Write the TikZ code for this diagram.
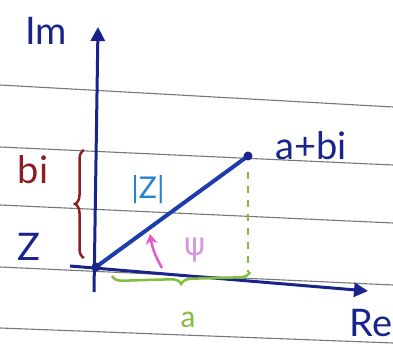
\documentclass[tikz,border=0pt]{standalone}
\usepackage{fontspec}
\setmainfont{Lato}
\newfontfamily\dvfont{DejaVu Sans}
\usetikzlibrary{arrows.meta,decorations.pathreplacing}
\definecolor{axisblue}{RGB}{25,35,140}
\definecolor{lineblue}{RGB}{30,60,170}
\definecolor{zcyan}{RGB}{40,130,210}
\definecolor{darkred}{RGB}{140,30,35}
\definecolor{brgreen}{RGB}{130,190,60}
\definecolor{mag}{RGB}{230,90,200}
\definecolor{lpink}{RGB}{215,150,225}
\definecolor{paper}{RGB}{120,120,120}
\tikzset{
  ruled/.style={paper,line width=1.1pt},
  axis/.style={axisblue,line width=3pt,-{Triangle[length=14pt,width=14pt]}},
  lbl/.style={inner sep=0pt,anchor=center},
  big/.style={font=\fontsize{38}{38}\selectfont},
  mid/.style={font=\fontsize{30}{30}\selectfont},
}
\begin{document}
\begin{tikzpicture}[x=1pt,y=-1pt]
\useasboundingbox (0,0) rectangle (393,344);
% ruled paper
\draw[ruled] (0,85) -- (393,107);
\draw[ruled] (0,147) -- (393,165);
\draw[ruled] (0,205) -- (393,223);
\draw[ruled] (0,267) -- (393,285);
\draw[ruled] (0,328) -- (393,343);
% coordinates
\coordinate (O) at (96,267);
\coordinate (P) at (248,156);
\coordinate (ybot) at (94,292);
\coordinate (ytop) at (98,27);
\coordinate (xl) at (70,266);
\coordinate (xr) at (368,291);
\coordinate (Pfoot) at (248,272);
\coordinate (Ptop) at (248,172);
% dashed drop
\draw[brgreen,line width=1.3pt,dash pattern=on 7pt off 7pt] (Ptop) -- (Pfoot);
% axes
\draw[axis] (ybot) -- (ytop);
\draw[axis] (xl) -- (xr);
% vector
\draw[lineblue,line width=4pt,line cap=round] (O) -- (P);
\fill[axisblue] (O) circle (4.5);
\fill[axisblue] (P) circle (4.5);
% braces
\draw[darkred,line width=2.5pt,decorate,decoration={brace,amplitude=9pt}] (84,258) -- (84,150);
\draw[brgreen,line width=2.5pt,decorate,decoration={brace,amplitude=10pt}] (250,272) -- (112,276);
% angle mark
\coordinate (ang1) at (162,268);
\coordinate (ang2) at (150,234);
\draw[mag,line width=2.5pt,-{Stealth[length=10pt,width=12pt]}] (ang1) to[bend left=10] (ang2);
% labels
\node[lbl,big,axisblue] (im) at (46,31) {Im};
\node[lbl,big,axisblue] (re) at (371,323) {Re};
\node[lbl,big,axisblue] (abi) at (311,146) {a+bi};
\node[lbl,big,darkred] (bi) at (33,170) {bi};
\node[lbl,big,axisblue] (z) at (29,247) {Z};
\node[lbl,mid,zcyan] (mod) at (148,190) {|Z|};
\node[lbl,mid,brgreen] (a) at (188,320) {a};
\node[lbl,font=\dvfont\fontsize{32}{32}\selectfont,lpink] (phi) at (195,250) {ψ};
\end{tikzpicture}
\end{document}
